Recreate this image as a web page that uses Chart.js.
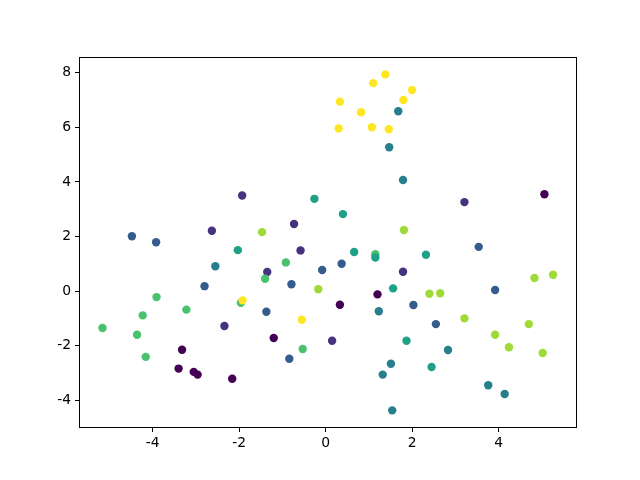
<!DOCTYPE html>
<html>
<head>
<meta charset="utf-8">
<script src="https://cdn.jsdelivr.net/npm/chart.js@4/dist/chart.umd.min.js"></script>
<style>
  html, body { margin: 0; padding: 0; background: #fff; }
  canvas { display: block; }
</style>
</head>
<body>
<canvas id="scatter" width="640" height="480"></canvas>
<script>
// ===============================
// DATA
// ===============================

// viridis, 8 classes
const classColors = ['#440154', '#46327e', '#365c8d', '#277f8e', '#1fa187', '#4ac16d', '#a0da39', '#fde725'];

const xValues = [
    // purple
    5.06, -3.32, -3.40, -3.05, -2.96, -2.16, -1.20, 0.33, 1.20,
    // indigo
    -1.93, -2.63, -0.73, 3.21, -0.58, -1.35, 1.79, 0.15, -2.34,
    // blue
    -4.48, -3.92, -2.80, -0.08, 0.37, -0.79, -1.37, -0.84, 2.03, 3.54, 3.92, 2.55,
    // teal
    1.68, 1.47, 1.79, -2.55, 1.23, 1.51, 1.32, 1.54, 2.83, 3.76, 4.14,
    // green
    -3.91, -4.23, -3.22, -5.16, -4.36, -4.16, -1.96, -0.92, -1.40, 1.15, -0.53,
    // green-teal
    -0.26, 0.40, -2.03, 0.66, 1.15, 1.56, 1.87, 2.32, 2.45,
    // yellow-green
    -1.47, 1.81, -0.17, 4.83, 5.26, 2.40, 2.65, 3.21, 4.70, 3.92, 4.24, 5.02,
    // yellow
    1.38, 1.10, 2.00, 0.33, 1.80, 0.82, 0.30, 1.07, 1.46, -1.92, -0.55
];

const yValues = [
    3.55, -2.15, -2.84, -2.96, -3.06, -3.21, -1.72, -0.50, -0.12,
    3.50, 2.21, 2.46, 3.26, 1.49, 0.70, 0.71, -1.82, -1.28,
    2.01, 1.79, 0.18, 0.77, 1.00, 0.25, -0.76, -2.48, -0.51, 1.62, 0.04, -1.21,
    6.59, 5.27, 4.07, 0.91, -0.74, -2.66, -3.06, -4.37, -2.16, -3.45, -3.77,
    -0.22, -0.89, -0.68, -1.35, -1.60, -2.41, -0.43, 1.05, 0.45, 1.35, -2.12,
    3.38, 2.82, 1.50, 1.43, 1.23, 0.10, -1.82, 1.33, -2.78,
    2.16, 2.24, 0.07, 0.48, 0.60, -0.10, -0.08, -1.00, -1.21, -1.60, -2.06, -2.27,
    7.94, 7.62, 7.37, 6.94, 7.00, 6.55, 5.96, 6.00, 5.93, -0.34, -1.05
];

const pointClass = [
    0, 0, 0, 0, 0, 0, 0, 0, 0,
    1, 1, 1, 1, 1, 1, 1, 1, 1,
    2, 2, 2, 2, 2, 2, 2, 2, 2, 2, 2, 2,
    3, 3, 3, 3, 3, 3, 3, 3, 3, 3, 3,
    5, 5, 5, 5, 5, 5, 5, 5, 5, 5, 5,
    4, 4, 4, 4, 4, 4, 4, 4, 4,
    6, 6, 6, 6, 6, 6, 6, 6, 6, 6, 6, 6,
    7, 7, 7, 7, 7, 7, 7, 7, 7, 7, 7
];

const xTicks = [-4, -2, 0, 2, 4];
const yTicks = [-4, -2, 0, 2, 4, 6, 8];


// ===============================
// CHART SETUP
// ===============================

// matplotlib style box around the axes
const frameBox = {
    id: 'frameBox',
    afterDraw(chart) {
        const a = chart.chartArea;
        const ctx = chart.ctx;
        ctx.save();
        ctx.strokeStyle = '#000';
        ctx.lineWidth = 1;
        ctx.strokeRect(Math.round(a.left) - 0.5, Math.round(a.top) - 0.5,
            Math.round(a.right - a.left) + 1, Math.round(a.bottom - a.top) + 1);
        ctx.restore();
    }
};

const tickFont = { family: '"DejaVu Sans", sans-serif', size: 13.9 };

const ctx = document.getElementById('scatter').getContext('2d');

new Chart(ctx, {
    type: 'scatter',
    data: {
        datasets: [{
            data: xValues.map((x, i) => ({ x: x, y: yValues[i] })),
            backgroundColor: pointClass.map(c => classColors[c]),
            borderWidth: 0,
            pointRadius: 4.2,
            pointHoverRadius: 4.2
        }]
    },
    options: {
        responsive: false,
        animation: false,
        events: [],
        layout: { padding: { left: 0, top: 58, right: 64, bottom: 0 } },
        plugins: {
            legend: { display: false },
            tooltip: { enabled: false }
        },
        scales: {
            x: {
                type: 'linear',
                min: -5.68,
                max: 5.79,
                afterBuildTicks: s => { s.ticks = xTicks.map(v => ({ value: v })); },
                afterFit: s => { s.height = 53; },
                grid: { drawOnChartArea: false, drawTicks: true, tickLength: 5, tickColor: '#000', tickWidth: 1 },
                border: { display: false },
                ticks: { color: '#000', font: tickFont, padding: 3, maxRotation: 0 }
            },
            y: {
                type: 'linear',
                min: -4.98,
                max: 8.54,
                afterBuildTicks: s => { s.ticks = yTicks.map(v => ({ value: v })); },
                afterFit: s => { s.width = 80; },
                grid: { drawOnChartArea: false, drawTicks: true, tickLength: 5, tickColor: '#000', tickWidth: 1 },
                border: { display: false },
                ticks: { color: '#000', font: tickFont, padding: 4 }
            }
        }
    },
    plugins: [frameBox]
});
</script>
</body>
</html>
